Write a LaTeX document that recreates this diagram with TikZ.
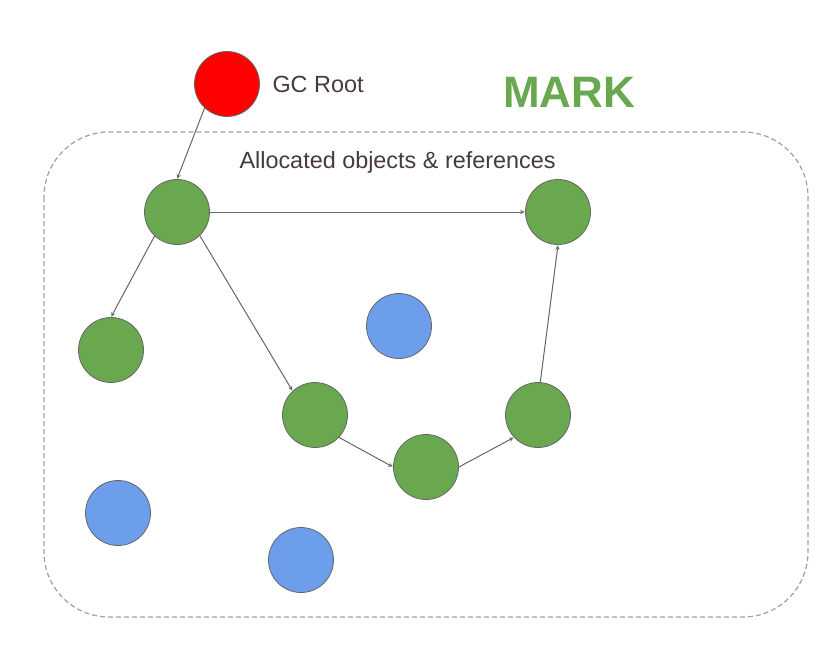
\documentclass[tikz,border=0pt]{standalone}
\usepackage{fontspec}
\setmainfont{Liberation Sans}
\usepackage{tikz}
\usetikzlibrary{calc}
\definecolor{objgreen}{HTML}{6AA84F}
\definecolor{objblue}{HTML}{6D9EEB}
\definecolor{txtgray}{HTML}{463A3A}

\begin{document}
\begin{tikzpicture}[x=1pt, y=-1pt,
    obj/.style={circle, draw=black!60, line width=0.8pt, minimum size=65pt, inner sep=0pt},
    live/.style={obj, fill=objgreen},
    dead/.style={obj, fill=objblue},
    ref/.style={->, >=stealth, draw=black!60, line width=1pt, shorten >=0.5pt}]
    \useasboundingbox (0,0) rectangle (832,658);
    % heap region
    \draw[dashed, dash pattern=on 5pt off 3pt, gray!75, line width=1.2pt, rounded corners=65pt] (44,132) rectangle (808,617);
    \node[font=\fontsize{23.4}{28}\selectfont, text=txtgray, anchor=west] (heaplbl) at (236,162) {Allocated objects \& references};
    \node[font=\fontsize{44}{50}\selectfont\bfseries, text=objgreen] (title) at (569,92) {MARK};
    % root
    \node[obj, fill=red] (root) at (227,84) {};
    \node[font=\fontsize{23.4}{28}\selectfont, text=txtgray, anchor=west] (rootlbl) at (269,84) {GC Root};
    % reachable objects
    \node[live] (a) at (177,212) {};
    \node[live] (b) at (558,212) {};
    \node[live] (c) at (111,350) {};
    \node[live] (d) at (315,415) {};
    \node[live] (e) at (426,467) {};
    \node[live] (f) at (538,415) {};
    % unreachable objects
    \node[dead] (g) at (399,326) {};
    \node[dead] (h) at (118,513) {};
    \node[dead] (k) at (301,560) {};
    % references
    \draw[ref] (root.227) -- (a.north);
    \draw[ref] (a.east) -- (b.west);
    \draw[ref] (a.227) -- (c.north);
    \draw[ref] (a.-46) -- (d.133);
    \draw[ref] (d.-43) -- (e.west);
    \draw[ref] (e.east) -- (f.223);
    \draw[ref] (f.86) -- (b.south);
\end{tikzpicture}
\end{document}
